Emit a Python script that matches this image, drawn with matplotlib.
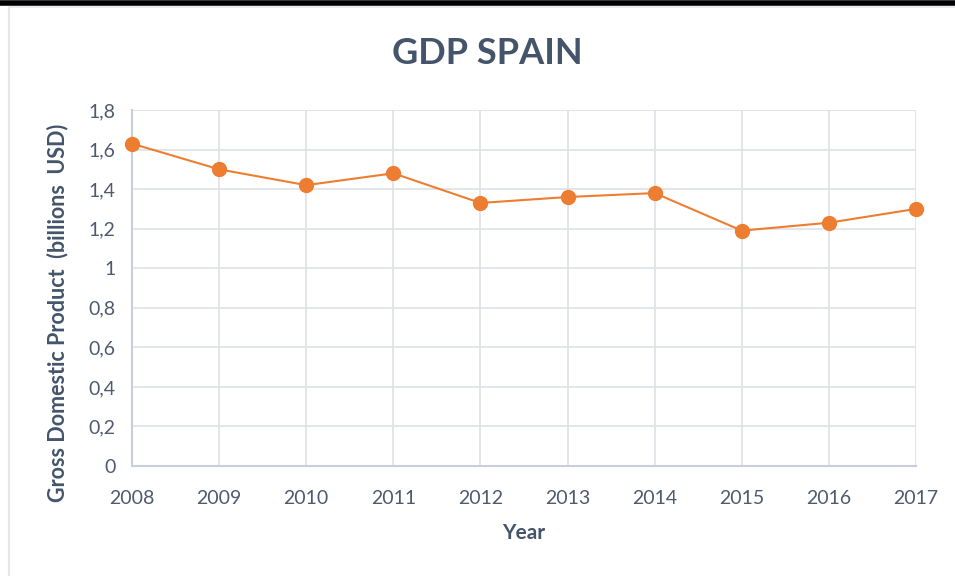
import matplotlib.pyplot as plt
from matplotlib.lines import Line2D
from matplotlib.ticker import FuncFormatter

# Données
years = [2008, 2009, 2010, 2011, 2012, 2013, 2014, 2015, 2016, 2017]
gdp = [1.63, 1.50, 1.42, 1.48, 1.33, 1.36, 1.38, 1.19, 1.23, 1.30]
y_ticks = [0, 0.2, 0.4, 0.6, 0.8, 1.0, 1.2, 1.4, 1.6, 1.8]

plt.rcParams['font.family'] = ['Lato', 'DejaVu Sans']

fig = plt.figure(figsize=(9.55, 5.76), dpi=100)
ax = fig.add_axes([132 / 955, 1 - 466 / 576, (916 - 132) / 955, (466 - 110) / 576])

ax.plot(years, gdp, color='#ED7D31', linewidth=1.5, marker='o', markersize=10,
        clip_on=False, zorder=3)

ax.set_xlim(years[0], years[-1])
ax.set_ylim(0, 1.8)
ax.set_xticks(years)
ax.set_yticks(y_ticks)
ax.yaxis.set_major_formatter(FuncFormatter(lambda v, p: ('%g' % round(v, 1)).replace('.', ',')))

ax.grid(True, color='#DDE1E8', linewidth=1.2)
ax.set_axisbelow(True)
for s in ['top', 'right']:
    ax.spines[s].set_visible(False)
for s in ['left', 'bottom']:
    ax.spines[s].set_color('#C9CFDA')
    ax.spines[s].set_linewidth(1.5)

ax.tick_params(length=0, labelsize=14, labelcolor='#4E5A6E')
ax.tick_params(axis='x', pad=17)
ax.tick_params(axis='y', pad=12)

ax.set_xlabel('Year', fontsize=15, fontweight='bold', color='#44546A', labelpad=12)
ax.set_ylabel('Gross Domestic Product  (billions  USD)', fontsize=15.5, fontweight='bold',
              color='#44546A', labelpad=14, y=0.43)

fig.text(487 / 955, 1 - 53 / 576, 'GDP SPAIN', ha='center', va='center',
         fontsize=26, fontweight='bold', color='#44546A')

# Cadre
fig.add_artist(Line2D([0, 1], [1 - 2.5 / 576, 1 - 2.5 / 576], color='black', linewidth=4))
fig.add_artist(Line2D([8.5 / 955, 8.5 / 955], [0, 1 - 7 / 576], color='#E3E6EA', linewidth=1.5))
fig.add_artist(Line2D([8.5 / 955, 1], [1 - 7 / 576, 1 - 7 / 576], color='#E8EBEE', linewidth=1.2))

fig.savefig('out.png', dpi=100)
